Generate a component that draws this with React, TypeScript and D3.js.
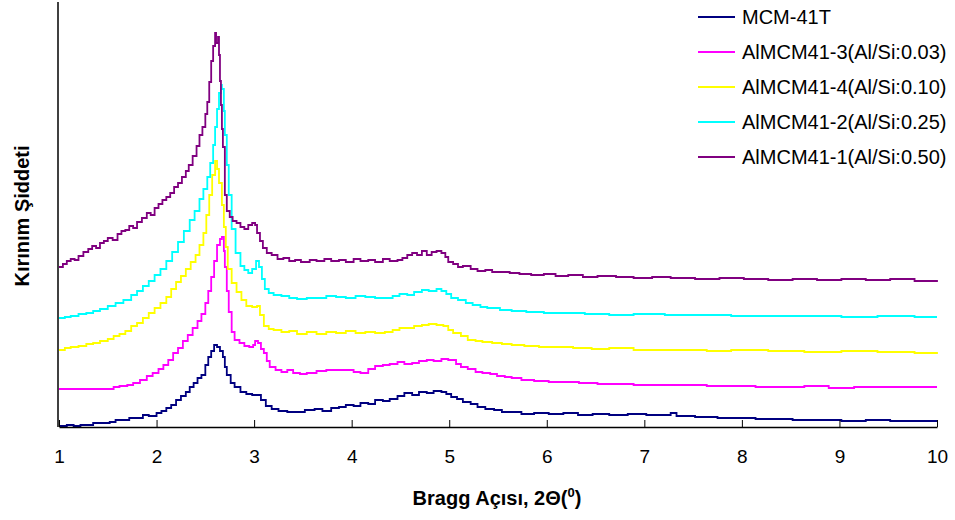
import React, { useRef, useEffect } from "react"
import * as d3 from "d3"

type Pt = [number, number]

// 2θ (degrees), intensity (a.u.)
const mcm41T: Pt[] = [
  [1.0, 1], [1.08, 2], [1.15, 1], [1.22, 2], [1.3, 2], [1.35, 4], [1.42, 4], [1.52, 5], [1.58, 7], [1.65, 7],
  [1.72, 9], [1.8, 9], [1.86, 12], [1.92, 11], [2.0, 14], [2.05, 16], [2.1, 19], [2.15, 22], [2.2, 27], [2.25, 31],
  [2.3, 35], [2.34, 40], [2.38, 44], [2.42, 49], [2.46, 52], [2.5, 62], [2.53, 70], [2.56, 76], [2.59, 82], [2.62, 80],
  [2.65, 76], [2.68, 70], [2.7, 60], [2.72, 52], [2.76, 44], [2.8, 40], [2.86, 35], [2.92, 33], [2.98, 32], [3.03, 32],
  [3.07, 27], [3.12, 21], [3.18, 18], [3.25, 16], [3.34, 15], [3.42, 15], [3.52, 17], [3.62, 18], [3.7, 16], [3.79, 19],
  [3.87, 20], [3.94, 22], [4.02, 21], [4.09, 24], [4.17, 23], [4.24, 27], [4.32, 26], [4.39, 28], [4.47, 31], [4.54, 34],
  [4.62, 32], [4.69, 35], [4.77, 34], [4.84, 36], [4.92, 35], [4.97, 33], [5.02, 30], [5.08, 28], [5.14, 25], [5.22, 23],
  [5.29, 20], [5.37, 18], [5.46, 17], [5.54, 15], [5.64, 15], [5.74, 13], [5.87, 14], [6.02, 13], [6.17, 14], [6.32, 12],
  [6.47, 13], [6.64, 12], [6.83, 13], [7.02, 12], [7.22, 12], [7.27, 14], [7.33, 11], [7.52, 10], [7.75, 9], [7.96, 9],
  [8.14, 8], [8.33, 8], [8.52, 7], [8.77, 7], [9.02, 6], [9.27, 7], [9.52, 6], [9.77, 6], [10.0, 6],
]

const alMcm41_3: Pt[] = [
  [1.0, 38], [1.52, 38], [1.56, 40], [1.62, 41], [1.7, 42], [1.76, 44], [1.83, 47], [1.9, 51], [1.96, 54], [2.02, 58],
  [2.07, 62], [2.12, 67], [2.17, 74], [2.22, 79], [2.27, 86], [2.32, 92], [2.37, 99], [2.42, 106], [2.46, 113], [2.5, 124],
  [2.53, 136], [2.56, 150], [2.59, 166], [2.62, 182], [2.65, 188], [2.67, 190], [2.69, 176], [2.7, 160], [2.72, 136], [2.74, 115],
  [2.77, 95], [2.8, 87], [2.85, 84], [2.9, 81], [2.95, 80], [2.99, 82], [3.01, 86], [3.04, 84], [3.07, 78], [3.1, 74],
  [3.13, 66], [3.16, 60], [3.22, 57], [3.28, 55], [3.34, 57], [3.4, 54], [3.47, 53], [3.54, 54], [3.64, 56], [3.74, 57],
  [3.84, 57], [3.94, 57], [4.02, 55], [4.09, 54], [4.17, 58], [4.24, 61], [4.32, 62], [4.39, 63], [4.47, 65], [4.54, 63],
  [4.62, 64], [4.69, 66], [4.77, 67], [4.84, 66], [4.92, 68], [4.99, 67], [5.07, 63], [5.12, 60], [5.19, 58], [5.27, 55],
  [5.34, 54], [5.42, 53], [5.49, 51], [5.57, 50], [5.64, 49], [5.74, 47], [5.87, 46], [6.02, 45], [6.17, 45], [6.33, 44],
  [6.52, 43], [6.71, 43], [6.89, 42], [7.14, 42], [7.39, 42], [7.64, 41], [7.89, 41], [8.14, 40], [8.39, 40], [8.64, 41],
  [8.89, 39], [9.15, 40], [9.52, 40], [9.9, 40], [10.0, 40],
]

const alMcm41_4: Pt[] = [
  [1.0, 77], [1.06, 79], [1.12, 80], [1.2, 81], [1.28, 83], [1.35, 84], [1.42, 86], [1.5, 88], [1.56, 91], [1.62, 93],
  [1.68, 96], [1.74, 101], [1.8, 104], [1.86, 109], [1.92, 114], [1.98, 119], [2.04, 124], [2.1, 130], [2.15, 138], [2.2, 145],
  [2.25, 151], [2.3, 158], [2.35, 165], [2.4, 172], [2.44, 182], [2.48, 194], [2.51, 212], [2.54, 232], [2.57, 252], [2.6, 266],
  [2.62, 258], [2.64, 244], [2.67, 222], [2.69, 200], [2.71, 180], [2.73, 158], [2.77, 144], [2.82, 135], [2.87, 127], [2.92, 121],
  [2.98, 120], [3.03, 121], [3.06, 112], [3.1, 101], [3.15, 98], [3.2, 97], [3.28, 95], [3.36, 96], [3.44, 93], [3.54, 95],
  [3.64, 93], [3.74, 95], [3.84, 94], [3.94, 96], [4.04, 94], [4.14, 95], [4.24, 94], [4.34, 95], [4.42, 97], [4.49, 99],
  [4.57, 99], [4.64, 101], [4.72, 102], [4.79, 103], [4.87, 102], [4.94, 101], [4.99, 97], [5.04, 94], [5.12, 91], [5.19, 87],
  [5.27, 86], [5.34, 85], [5.44, 84], [5.54, 83], [5.64, 82], [5.77, 81], [5.92, 80], [6.08, 80], [6.27, 79], [6.46, 78],
  [6.64, 79], [6.89, 77], [7.14, 77], [7.39, 77], [7.64, 76], [7.89, 77], [8.27, 76], [8.64, 75], [9.02, 76], [9.39, 75],
  [9.77, 74], [10.0, 75],
]

const alMcm41_2: Pt[] = [
  [1.0, 109], [1.06, 110], [1.12, 111], [1.2, 113], [1.28, 114], [1.35, 116], [1.42, 118], [1.5, 121], [1.58, 124], [1.66, 127],
  [1.74, 132], [1.8, 136], [1.86, 141], [1.92, 146], [1.98, 152], [2.04, 158], [2.1, 166], [2.16, 175], [2.22, 185], [2.28, 196],
  [2.34, 207], [2.39, 216], [2.44, 228], [2.48, 238], [2.52, 250], [2.55, 264], [2.58, 282], [2.6, 300], [2.62, 318], [2.64, 334],
  [2.66, 342], [2.67, 338], [2.69, 316], [2.7, 292], [2.72, 262], [2.74, 232], [2.77, 198], [2.81, 174], [2.86, 161], [2.9, 157],
  [2.94, 154], [2.98, 158], [3.02, 166], [3.05, 160], [3.08, 148], [3.11, 138], [3.15, 134], [3.2, 132], [3.28, 131], [3.36, 129],
  [3.44, 128], [3.54, 129], [3.64, 129], [3.74, 131], [3.84, 130], [3.94, 129], [4.04, 131], [4.14, 130], [4.24, 129], [4.34, 129],
  [4.42, 131], [4.49, 133], [4.57, 132], [4.64, 135], [4.72, 137], [4.79, 136], [4.87, 138], [4.92, 136], [4.97, 133], [5.02, 129],
  [5.09, 127], [5.17, 124], [5.24, 122], [5.32, 120], [5.39, 119], [5.52, 117], [5.64, 116], [5.79, 115], [5.97, 114], [6.14, 114],
  [6.39, 113], [6.64, 112], [6.89, 113], [7.21, 112], [7.52, 112], [7.89, 111], [8.27, 111], [8.64, 111], [9.02, 110], [9.39, 111],
  [9.77, 110], [10.0, 110],
]

const alMcm41_1: Pt[] = [
  [1.0, 160], [1.04, 163], [1.08, 166], [1.12, 168], [1.16, 167], [1.2, 171], [1.25, 175], [1.3, 178], [1.34, 181], [1.38, 179],
  [1.42, 184], [1.46, 186], [1.5, 189], [1.55, 187], [1.6, 193], [1.64, 196], [1.68, 197], [1.72, 201], [1.76, 199], [1.8, 205],
  [1.85, 209], [1.9, 214], [1.94, 212], [1.98, 219], [2.02, 223], [2.06, 227], [2.1, 230], [2.14, 234], [2.18, 240], [2.22, 244],
  [2.26, 250], [2.3, 256], [2.33, 262], [2.37, 271], [2.41, 281], [2.44, 292], [2.47, 300], [2.5, 313], [2.52, 325], [2.54, 345],
  [2.56, 366], [2.58, 381], [2.6, 394], [2.61, 384], [2.63, 390], [2.64, 372], [2.65, 346], [2.66, 322], [2.67, 298], [2.68, 280],
  [2.7, 232], [2.72, 216], [2.75, 210], [2.78, 206], [2.82, 204], [2.86, 200], [2.9, 198], [2.94, 202], [2.98, 204], [3.01, 202],
  [3.03, 194], [3.06, 186], [3.09, 179], [3.13, 174], [3.18, 172], [3.24, 168], [3.3, 169], [3.36, 166], [3.42, 167], [3.48, 165],
  [3.57, 167], [3.64, 166], [3.72, 168], [3.79, 166], [3.87, 167], [3.94, 165], [4.02, 168], [4.09, 166], [4.17, 167], [4.24, 165],
  [4.32, 168], [4.39, 166], [4.47, 167], [4.52, 169], [4.57, 172], [4.62, 174], [4.67, 172], [4.72, 176], [4.77, 172], [4.82, 175],
  [4.87, 176], [4.92, 174], [4.96, 170], [4.99, 165], [5.04, 163], [5.09, 160], [5.14, 161], [5.22, 158], [5.29, 156], [5.37, 157],
  [5.44, 155], [5.52, 155], [5.62, 154], [5.72, 153], [5.84, 152], [5.97, 153], [6.09, 151], [6.22, 152], [6.37, 150], [6.52, 151],
  [6.71, 150], [6.89, 149], [7.08, 150], [7.27, 149], [7.52, 148], [7.77, 149], [8.02, 148], [8.27, 147], [8.52, 148], [8.77, 147],
  [9.02, 148], [9.27, 147], [9.52, 148], [9.77, 146], [10.0, 147],
]

const seriesNames = [
  "MCM-41T",
  "AlMCM41-3(Al/Si:0.03)",
  "AlMCM41-4(Al/Si:0.10)",
  "AlMCM41-2(Al/Si:0.25)",
  "AlMCM41-1(Al/Si:0.50)",
]
const seriesData = [mcm41T, alMcm41_3, alMcm41_4, alMcm41_2, alMcm41_1]
const seriesColors = ["#000080", "#FF00FF", "#FFFF00", "#00FFFF", "#800080"]
const xTicks = [1, 2, 3, 4, 5, 6, 7, 8, 9, 10]

const font = "'Liberation Sans', Arial, sans-serif"

const App = () => {
  const element = useRef<SVGSVGElement>(null)

  useEffect(() => {
    const svg = d3.select(element.current)
    svg.selectAll("*").remove()

    const x = d3.scaleLinear().domain([1, 10]).range([59, 937])
    const y = d3.scaleLinear().domain([0, 425]).range([427, 2])

    // series
    const line = d3.line<Pt>()
      .x(d => x(d[0]))
      .y(d => y(d[1]))
      .curve(d3.curveStepAfter)

    svg.append("g")
      .selectAll("path")
      .data(seriesData)
      .enter()
        .append("path")
        .attr("d", d => line(d))
        .attr("fill", "none")
        .attr("stroke", (d, i) => seriesColors[i])
        .attr("stroke-width", 1.8)

    // x axis, ticks pointing up into the plot
    const xAxis = svg.append("g")
      .attr("transform", "translate(0,427)")
      .call(
        d3.axisBottom(x)
          .tickValues(xTicks)
          .tickSizeInner(-7)
          .tickSizeOuter(0)
          .tickPadding(23)
          .tickFormat(d3.format("d"))
      )
    xAxis.select(".domain").attr("stroke", "#000").attr("stroke-width", 1.5)
    xAxis.selectAll(".tick line").attr("stroke", "#000")
    xAxis.selectAll(".tick text")
      .attr("font-family", font)
      .attr("font-size", 19)
      .attr("fill", "#000")

    // y axis line only
    svg.append("line")
      .attr("x1", 58).attr("x2", 58)
      .attr("y1", y(425)).attr("y2", y(0))
      .attr("stroke", "#000")
      .attr("stroke-width", 1.5)

    // axis titles
    const xt = svg.append("text")
      .attr("x", 497)
      .attr("y", 505)
      .attr("text-anchor", "middle")
      .attr("font-family", font)
      .attr("font-size", 20)
      .attr("font-weight", "bold")
    xt.append("tspan").text("Bragg Açısı, 2Θ(")
    xt.append("tspan").attr("dy", -8).attr("font-size", 13).text("0")
    xt.append("tspan").attr("dy", 8).text(")")

    svg.append("text")
      .attr("transform", "translate(29,216) rotate(-90)")
      .attr("text-anchor", "middle")
      .attr("font-family", font)
      .attr("font-size", 20)
      .attr("font-weight", "bold")
      .text("Kırınım Şiddeti")

    // legend
    const legend = svg.append("g")
      .selectAll("g")
      .data(seriesNames)
      .enter()
        .append("g")
        .attr("transform", (d, i) => "translate(698," + (17 + i * 35) + ")")
    legend.append("line")
      .attr("x1", 0).attr("x2", 37)
      .attr("stroke", (d, i) => seriesColors[i])
      .attr("stroke-width", 2)
    legend.append("text")
      .attr("x", 44)
      .attr("dy", "0.35em")
      .attr("font-family", font)
      .attr("font-size", 20)
      .text(d => d)
  }, [])

  return (
    <div style={{ position: "absolute", left: 0, top: 0 }}>
      <svg ref={element} width={955} height={520} style={{ display: "block", background: "#fff" }} />
    </div>
  )
}

export default App
